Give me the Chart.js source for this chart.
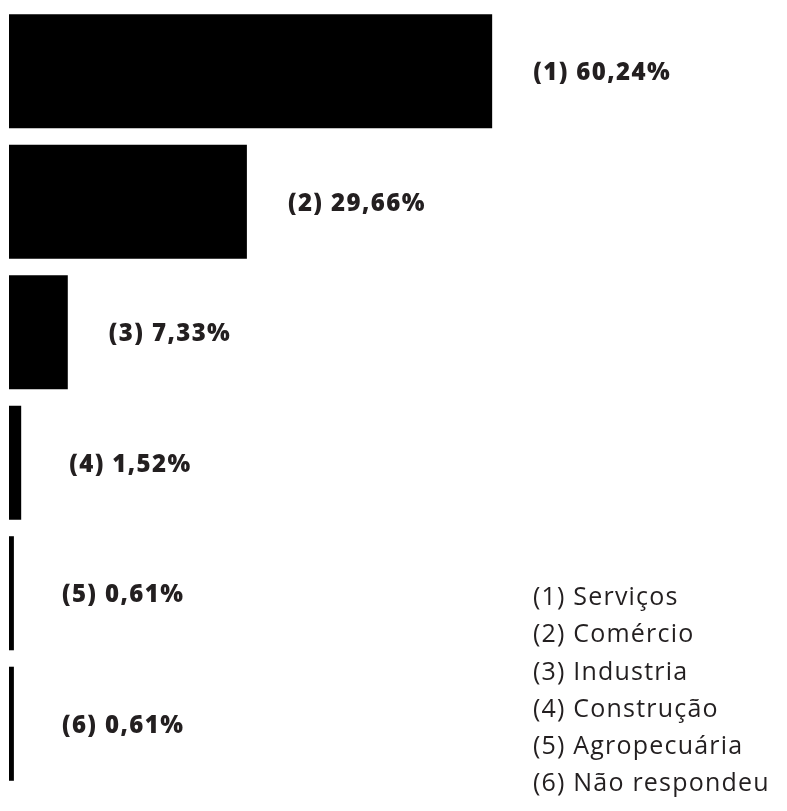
<!DOCTYPE html>
<html>
<head>
<meta charset="utf-8">
<script src="https://cdn.jsdelivr.net/npm/chart.js@4"></script>
<style>
  body { margin: 0; background: #fff; }
  #wrap { width: 787px; height: 811px; }
</style>
</head>
<body>
<div id="wrap"><canvas id="bars" width="787" height="811"></canvas></div>
<script>
const categories = ['(1)', '(2)', '(3)', '(4)', '(5)', '(6)']
const values = [60.24, 29.66, 7.33, 1.52, 0.61, 0.61]
const valueLabels = ['60,24%', '29,66%', '7,33%', '1,52%', '0,61%', '0,61%']
const legendNames = ['Serviços', 'Comércio', 'Industria', 'Construção', 'Agropecuária', 'Não respondeu']

const textColor = '#231f20'

// value text to the right of every bar
const barText = {
  id: 'barText',
  afterDatasetsDraw(chart) {
    const ctx = chart.ctx
    const meta = chart.getDatasetMeta(0)
    ctx.save()
    ctx.fillStyle = textColor
    ctx.font = '800 24px "Open Sans"'
    ctx.letterSpacing = '1.4px'
    ctx.textBaseline = 'middle'
    meta.data.forEach((bar, i) => {
      // small bars get a slightly wider gap, as in the original
      const gap = bar.x < 40 ? 48 : 41
      ctx.fillText(categories[i] + ' ' + valueLabels[i], bar.x + gap, bar.y + 2)
    })
    ctx.restore()
  }
}

// list of names bottom right
const nameList = {
  id: 'nameList',
  afterDraw(chart) {
    const ctx = chart.ctx
    ctx.save()
    ctx.fillStyle = textColor
    ctx.font = '500 25px "Open Sans"'
    ctx.letterSpacing = '1.2px'
    ctx.textBaseline = 'middle'
    legendNames.forEach((n, i) => {
      ctx.fillText(categories[i] + ' ' + n, 533, 598 + i * 37.2)
    })
    ctx.restore()
  }
}

new Chart(document.getElementById('bars'), {
  type: 'bar',
  data: {
    labels: categories,
    datasets: [{
      data: values,
      backgroundColor: '#000000',
      barPercentage: 0.874,
      categoryPercentage: 1
    }]
  },
  options: {
    indexAxis: 'y',
    responsive: false,
    animation: false,
    layout: { padding: { left: 9, right: 0, top: 6, bottom: 22 } },
    plugins: { legend: { display: false }, tooltip: { enabled: false } },
    scales: {
      x: { display: false, min: 0, max: 97 },
      y: { display: false }
    }
  },
  plugins: [barText, nameList]
})
</script>
</body>
</html>
